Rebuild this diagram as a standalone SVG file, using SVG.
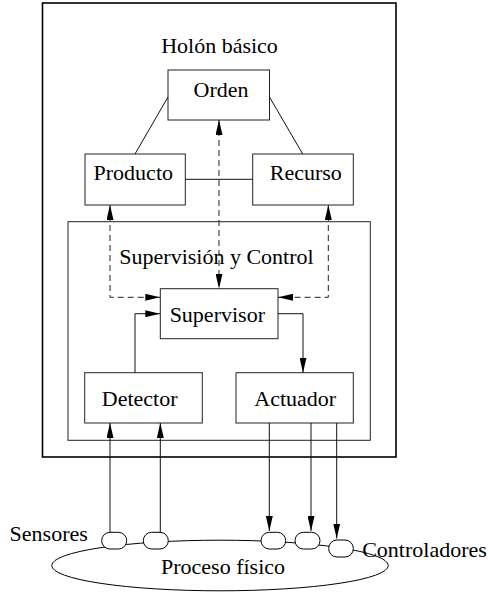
<svg xmlns="http://www.w3.org/2000/svg" width="488" height="592" viewBox="0 0 488 592">
<style>
text{font-family:"Liberation Serif","Times New Roman",serif;font-size:22px;fill:#000;text-anchor:middle}
.box{fill:#fff;stroke:#222;stroke-width:1}
.ln{fill:none;stroke:#111;stroke-width:1}
.dash{fill:none;stroke:#222;stroke-width:1;stroke-dasharray:6 4}
.sen{fill:#fff;stroke:#000;stroke-width:1}
</style>
<defs>
<marker id="ah" markerUnits="userSpaceOnUse" markerWidth="15" markerHeight="7" refX="15" refY="3.5" orient="auto-start-reverse" viewBox="0 0 15 7">
<path d="M0,0 L15,3.5 L0,7 z" fill="#000"/>
</marker>
</defs>
<g id="holon">
<rect x="42.5" y="3" width="353.5" height="454" fill="none" stroke="#000" stroke-width="1.6"/>
<text x="219.5" y="53">Holón básico</text>
</g>
<g id="supervision">
<rect x="68" y="221.7" width="302.3" height="218.6" fill="none" stroke="#222" stroke-width="1"/>
<text x="216.5" y="264">Supervisión y Control</text>
</g>
<g id="orden">
<rect class="box" x="168" y="70" width="101.5" height="50"/>
<text x="221" y="96.5">Orden</text>
</g>
<g id="producto">
<rect class="box" x="85" y="154" width="100.3" height="51"/>
<text x="133.3" y="180">Producto</text>
</g>
<g id="recurso">
<rect class="box" x="252.7" y="154" width="100.6" height="51"/>
<text x="305.8" y="180">Recurso</text>
</g>
<g id="supervisor">
<rect class="box" x="160.3" y="288.7" width="117.7" height="50"/>
<text x="217.3" y="322">Supervisor</text>
</g>
<g id="detector">
<rect class="box" x="84.7" y="372.7" width="117.6" height="50.3"/>
<text x="139.7" y="405.7">Detector</text>
</g>
<g id="actuador">
<rect class="box" x="236" y="372.7" width="117.3" height="50.3"/>
<text x="295.2" y="405.7">Actuador</text>
</g>
<g id="proceso">
<ellipse cx="220" cy="565.5" rx="168.3" ry="25.3" fill="none" stroke="#000" stroke-width="1"/>
<text x="223" y="574">Proceso físico</text>
</g>
<g id="sensores">
<rect class="sen" x="101.7" y="532.3" width="25" height="16.7" rx="8.3"/>
<rect class="sen" x="143.3" y="532.3" width="25" height="16.7" rx="8.3"/>
<text x="48.7" y="541">Sensores</text>
</g>
<g id="controladores">
<rect class="sen" x="261" y="532.3" width="24.7" height="16.7" rx="8.3"/>
<rect class="sen" x="295" y="532.3" width="25" height="16.7" rx="8.3"/>
<rect class="sen" x="328.7" y="540" width="24.6" height="17" rx="8.3"/>
<text x="424.5" y="556.7">Controladores</text>
</g>
<g id="connectors">
<path class="ln" d="M168,97 L135,154"/>
<path class="ln" d="M269.5,97 L302.7,154"/>
<path class="ln" d="M185.3,179.3 H252.7"/>
<path class="dash" d="M219,120 V288.7" marker-start="url(#ah)" marker-end="url(#ah)"/>
<path class="dash" d="M110,205 V297.3 H160.3" marker-start="url(#ah)" marker-end="url(#ah)"/>
<path class="dash" d="M328.3,205 V297.3 H278" marker-start="url(#ah)" marker-end="url(#ah)"/>
<path class="ln" d="M135,372.7 V313.7 H160.3" marker-end="url(#ah)"/>
<path class="ln" d="M278,313.7 H303 V372.7" marker-end="url(#ah)"/>
<path class="ln" d="M110,532.3 V423" marker-end="url(#ah)"/>
<path class="ln" d="M160.3,532.3 V423" marker-end="url(#ah)"/>
<path class="ln" d="M269.3,423 V531" marker-end="url(#ah)"/>
<path class="ln" d="M311,423 V531" marker-end="url(#ah)"/>
<path class="ln" d="M336.7,423 V538.5" marker-end="url(#ah)"/>
</g>
</svg>
